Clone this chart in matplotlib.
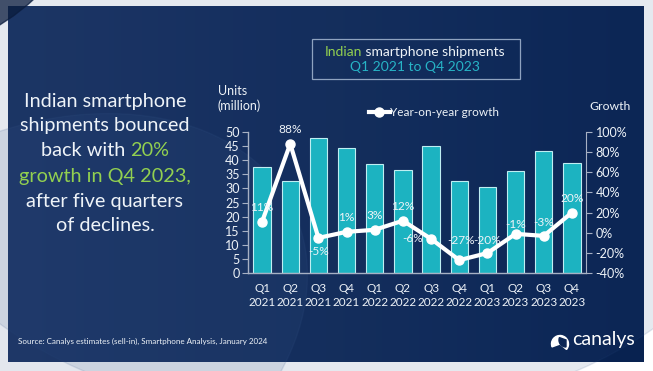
#!/usr/bin/env python
"""Indian smartphone shipments Q1 2021 - Q4 2023 (Canalys style chart)."""

import numpy as np
import matplotlib
matplotlib.use("Agg")
import matplotlib.pyplot as plt
from matplotlib.patches import Rectangle, Ellipse, Wedge
from matplotlib.lines import Line2D

plt.rcParams["font.family"] = ["Lato", "DejaVu Sans"]

quarters = ["Q1", "Q2", "Q3", "Q4", "Q1", "Q2", "Q3", "Q4", "Q1", "Q2", "Q3", "Q4"]
years = ["2021"] * 4 + ["2022"] * 4 + ["2023"] * 4
shipments = [37.4, 32.7, 47.6, 44.3, 38.5, 36.4, 44.8, 32.6, 30.6, 36.2, 43.3, 39.1]
growth = [11, 88, -5, 1, 3, 12, -6, -27, -20, -1, -3, 20]
growth_labels = ["11%", "88%", "-5%", "1%", "3%", "12%", "-6%", "-27%", "-20%", "-1%", "-3%", "20%"]

W, H = 653, 371
NAVY = "#0c2654"
TEAL = "#1cb3c1"
GREEN = "#92d050"
TEXT = "#eef3f8"
SPINE = "#a7b1c4"

fig = plt.figure(figsize=(W / 100, H / 100), dpi=100, facecolor="white")

# background panel drawn in pixel coordinates
bg = fig.add_axes([0, 0, 1, 1], zorder=-10)
bg.set_xlim(0, W)
bg.set_ylim(H, 0)
bg.axis("off")
px0, py0, px1, py1 = 8, 6, 644, 362
xx = np.linspace(0, 1, 300)
left_c = np.array([0x1b, 0x33, 0x62]) / 255
right_c = np.array([0x08, 0x22, 0x50]) / 255
grad = left_c[None, :] * (1 - xx[:, None]) + right_c[None, :] * xx[:, None]
img = np.repeat(grad[None, :, :], 10, axis=0)
bg.imshow(img, extent=(px0, px1, py1, py0), aspect="auto", zorder=0)
clip = Rectangle((px0, py0), px1 - px0, py1 - py0, transform=bg.transData)
dark = Ellipse((-95, -95), 380, 300, angle=-20, color="#061634", alpha=0.75, zorder=1)
dark.set_clip_path(clip)
bg.add_patch(dark)
light = Ellipse((40, 330), 560, 400, angle=-25, color="#3a5a8c", alpha=0.14, zorder=1)
light.set_clip_path(clip)
bg.add_patch(light)
glow = Ellipse((330, 120), 900, 600, color="#2a4b80", alpha=0.12, zorder=1)
glow.set_clip_path(clip)
bg.add_patch(glow)

# title box
bg.add_patch(Rectangle((312, 39), 208, 40, fill=False, edgecolor="#8fa3c0", lw=0.9, zorder=2))

# logo swoosh
bg.add_patch(Wedge((560, 344), 8.5, 160, 400, color="white", zorder=3))
bg.add_patch(Wedge((566, 340), 7, 90, 200, color=NAVY, zorder=4))

# main chart
ax = fig.add_axes([248 / W, 1 - 273.3 / H, 338 / W, 141.6 / H])
ax.patch.set_alpha(0)
x = np.arange(len(shipments))
ax.bar(x, shipments, width=0.61, color=TEAL, edgecolor="#bfeef2", linewidth=0.8, zorder=2)
ax.set_xlim(-0.5, len(shipments) - 0.5)
ax.set_ylim(0, 50)
ax.set_yticks(np.arange(0, 51, 5))
ax.set_xticks(x)
ax.set_xticklabels([f"{q}\n{y}" for q, y in zip(quarters, years)], linespacing=1.3)
ax.tick_params(axis="x", length=0, pad=7, colors=TEXT, labelsize=8.5)
ax.tick_params(axis="y", length=4, color=SPINE, colors=TEXT, labelsize=9, pad=2)
for side in ["top", "right"]:
    ax.spines[side].set_visible(False)
for side in ["left", "bottom"]:
    ax.spines[side].set_color(SPINE)
    ax.spines[side].set_linewidth(1)

ax2 = ax.twinx()
ax2.set_ylim(-40, 100)
ax2.set_yticks(np.arange(-40, 101, 20))
ax2.set_yticklabels([f"{v}%" for v in range(-40, 101, 20)])
ax2.tick_params(axis="y", length=4, color=SPINE, colors=TEXT, labelsize=9, pad=3)
for side in ["top", "left", "bottom"]:
    ax2.spines[side].set_visible(False)
ax2.spines["right"].set_color(SPINE)
ax2.plot(x, growth, color="white", lw=3, marker="o", ms=6.5, zorder=3)

label_offsets = [(0, 10.5), (0, 10), (0, -9.5), (0, 10.5), (0, 10.5), (0, 10),
                 (-13, 0.5), (1, 14), (0, 9), (0, 7), (0, 9.5), (0, 10)]
for xi, gi, lab, off in zip(x, growth, growth_labels, label_offsets):
    ax2.annotate(lab, (xi, gi), xytext=off, textcoords="offset points",
                 ha="center", va="center", color=TEXT, fontsize=8.6, zorder=4)

# axis titles and legend
fig.text(218 / W, 1 - 91 / H, "Units", color=TEXT, fontsize=9, va="center")
fig.text(218 / W, 1 - 106 / H, "(million)", color=TEXT, fontsize=9, va="center")
fig.text(589 / W, 1 - 106 / H, "Growth", color=TEXT, fontsize=8.8, va="center")
fig.add_artist(Line2D([369 / W, 390 / W], [1 - 112 / H] * 2, color="white", lw=3,
                      transform=fig.transFigure))
fig.add_artist(Line2D([379 / W], [1 - 112 / H], color="white", marker="o", ms=6.5,
                      transform=fig.transFigure))
fig.text(390 / W, 1 - 112 / H, "Year-on-year growth", color=TEXT, fontsize=8.5, va="center")

# mixed-colour text helper
fig.canvas.draw()
renderer = fig.canvas.get_renderer()


def mixed_line(xc, yc, parts, size):
    full = "".join(p for p, _ in parts)
    t = fig.text(xc, yc, full, fontsize=size, ha="center", va="center", alpha=0)
    bb = t.get_window_extent(renderer)
    cur = bb.x0
    for piece, col in parts:
        tt = fig.text(cur / fig.dpi / fig.get_figwidth(), yc, piece, fontsize=size,
                      ha="left", va="center", color=col)
        cur += tt.get_window_extent(renderer).width


# title inside box
mixed_line(415 / W, 1 - 52 / H, [("Indian", GREEN), (" smartphone shipments", TEXT)], 10)
fig.text(415 / W, 1 - 67 / H, "Q1 2021 to Q4 2023", color="#27b4c6", fontsize=10,
         ha="center", va="center")

# left commentary
lines = [
    [("Indian smartphone", TEXT)],
    [("shipments bounced", TEXT)],
    [("back with ", TEXT), ("20%", GREEN)],
    [("growth in Q4 2023,", GREEN)],
    [("after five quarters", TEXT)],
    [("of declines.", TEXT)],
]
for i, parts in enumerate(lines):
    mixed_line(105 / W, 1 - (101 + 25 * i) / H, parts, 14.3)

fig.text(18 / W, 1 - 341 / H, "Source: Canalys estimates (sell-in), Smartphone Analysis, January 2024",
         color=TEXT, fontsize=5.8, va="center")
fig.text(572 / W, 1 - 340 / H, "canalys", color="white", fontsize=14, va="center")

fig.savefig("out.png", dpi=100, facecolor="white")
